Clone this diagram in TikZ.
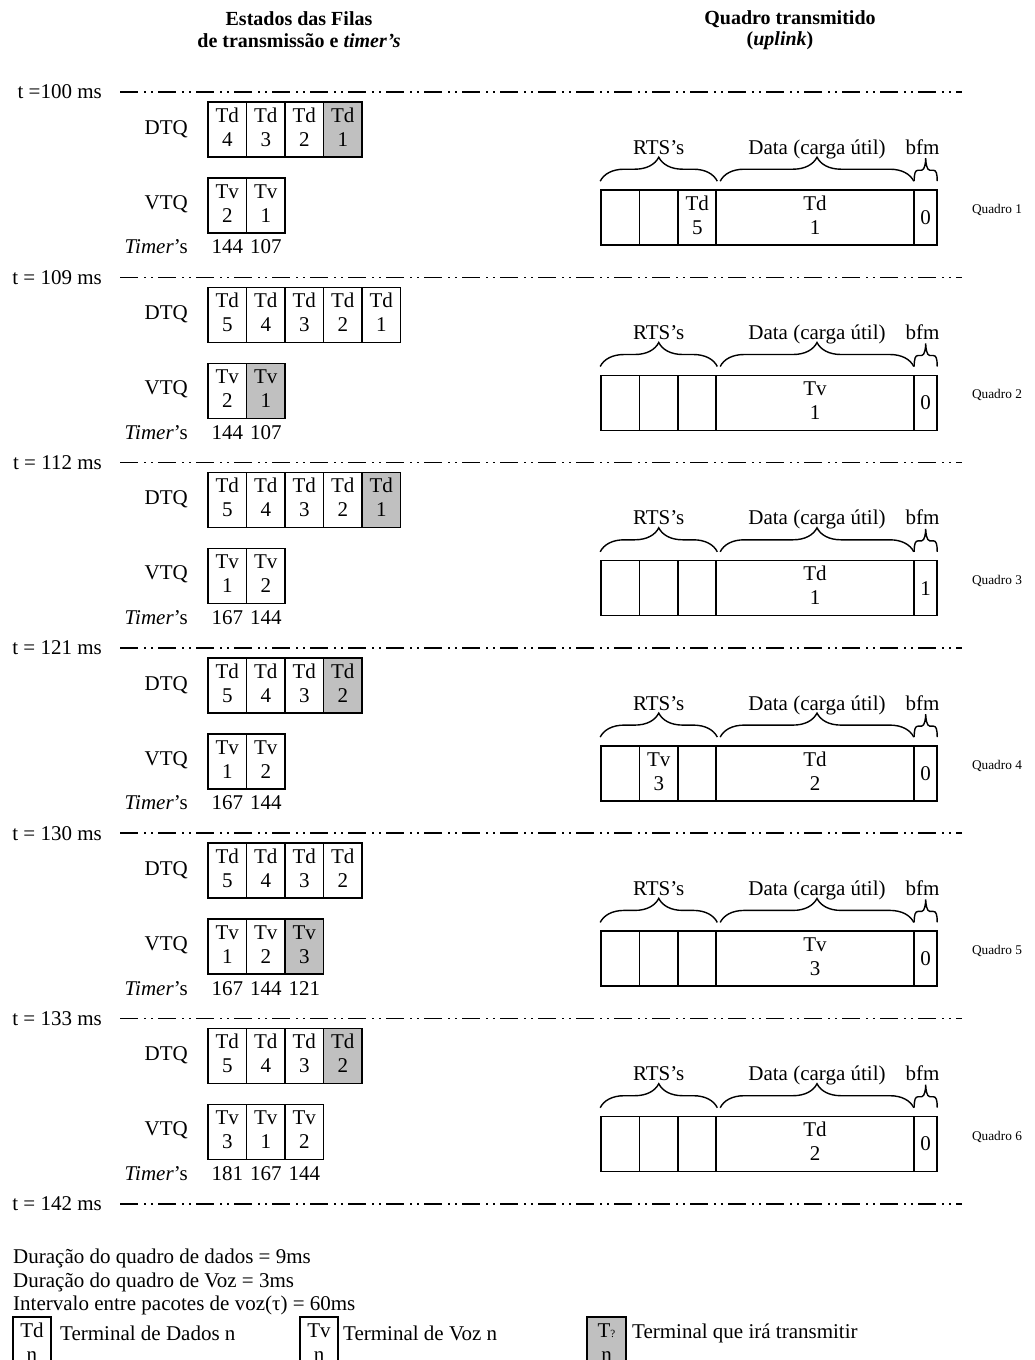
\documentclass[tikz,border=0pt]{standalone}
\usepackage{fontspec}
\setmainfont{Liberation Serif}
\usetikzlibrary{decorations.pathreplacing}

\definecolor{shade}{RGB}{192,192,192}

% two-line cell text
\newcommand{\tc}[2]{\strut#1\\\strut#2}

\tikzset{
  txt/.style={font=\fontsize{21}{24}\selectfont, inner sep=0pt},
  lbl/.style={txt, anchor=east},
  head/.style={font=\fontsize{20}{24}\selectfont\bfseries, inner sep=0pt},
  small/.style={font=\fontsize{13.3}{16}\selectfont, inner sep=0pt},
  cell/.style={draw, line width=1.6pt, minimum width=38.5pt, minimum height=55pt,
               inner sep=0pt, align=center, font=\fontsize{21}{24}\selectfont},
  timeline/.style={line width=1.5pt, dash pattern=on 18pt off 6pt on 2pt off 5pt on 2pt off 5pt},
  frbrace/.style={decorate, decoration={brace, amplitude=24pt}, line width=1.4pt},
  bflabel/.style={txt, midway, anchor=base, yshift=27pt},
}

\begin{document}
\begin{tikzpicture}[x=1pt, y=-1pt]
  \def\cw{38.5}   % queue cell width
  \def\qx{208}    % left edge of the queues
  \def\dy{185.3}  % distance between two time marks

  \useasboundingbox (0,0) rectangle (1035,1360);
  \clip (0,0) rectangle (1035,1360);

  % column headings
  \node[head] (hq1) at (299,19) {Estados das Filas};
  \node[head] (hq2) at (299,41) {de transmissão e \textit{timer's}};
  \node[head] (hf1) at (790,19) {Quadro transmitido};
  \node[head] (hf2) at (780,41) {(\textit{uplink})};

  % time marks
  \foreach \t [count=\k from 0] in {{t =100 ms},{t = 109 ms},{t = 112 ms},{t = 121 ms},
                                    {t = 130 ms},{t = 133 ms},{t = 142 ms}} {
    \pgfmathsetmacro{\L}{92+\k*\dy}
    \node[lbl] (t\k) at (102,\L) {\t};
    \coordinate (ts\k) at (120,\L);
    \coordinate (te\k) at (962,\L);
    \draw[timeline] (ts\k) -- (te\k);
  }

  % one block per frame: queues, timers and the frame sent
  \foreach \k/\dtq/\vtq/\tim/\rts/\pay/\bfm in {
      0/{4/white,3/white,2/white,1/shade}/{2/white,1/white}/{144,107}/{{},{},{\tc{Td}{5}}}/{\tc{Td}{1}}/0,
      1/{5/white,4/white,3/white,2/white,1/white}/{2/white,1/shade}/{144,107}/{{},{},{}}/{\tc{Tv}{1}}/0,
      2/{5/white,4/white,3/white,2/white,1/shade}/{1/white,2/white}/{167,144}/{{},{},{}}/{\tc{Td}{1}}/1,
      3/{5/white,4/white,3/white,2/shade}/{1/white,2/white}/{167,144}/{{},{\tc{Tv}{3}},{}}/{\tc{Td}{2}}/0,
      4/{5/white,4/white,3/white,2/white}/{1/white,2/white,3/shade}/{167,144,121}/{{},{},{}}/{\tc{Tv}{3}}/0,
      5/{5/white,4/white,3/white,2/shade}/{3/white,1/white,2/white}/{181,167,144}/{{},{},{}}/{\tc{Td}{2}}/0%
  } {
    \pgfmathsetmacro{\L}{92+\k*\dy}
    \pgfmathtruncatemacro{\qn}{\k+1}

    % queue labels
    \node[lbl] (dtq\k) at (188,\L+37) {DTQ};
    \node[lbl] (vtq\k) at (188,\L+112) {VTQ};
    \node[lbl] (tmr\k) at (188,\L+155) {\textit{Timer}'s};

    % data terminal queue
    \foreach \n/\c [count=\i from 0] in \dtq {
      \node[cell, fill=\c] (d\k-\i) at ({\qx+\cw/2+\i*\cw},\L+37.5) {\tc{Td}{\n}};
    }
    % voice terminal queue and its timers
    \foreach \n/\c [count=\i from 0] in \vtq {
      \node[cell, fill=\c] (v\k-\i) at ({\qx+\cw/2+\i*\cw},\L+113.5) {\tc{Tv}{\n}};
    }
    \foreach \v [count=\i from 0] in \tim {
      \node[txt] (tm\k-\i) at ({\qx+\cw/2+\i*\cw},\L+155) {\v};
    }

    % transmitted frame
    \foreach \r [count=\j] in \rts {
      \node[cell] (r\k-\j) at ({601+\cw/2+(\j-1)*\cw},\L+125.5) {\r};
    }
    \node[cell, minimum width=198pt] (pay\k) at (815,\L+125.5) {\pay};
    \node[cell, minimum width=23pt] (bfm\k) at (925.5,\L+125.5) {\bfm};
    \node[small] (q\k) at (997,\L+118) {Quadro \qn};

    % braces over the fields
    \draw[frbrace] ([yshift=8pt]r\k-1.north west) -- ([yshift=8pt]r\k-3.north east)
      node[bflabel] (lr\k) {RTS's};
    \draw[frbrace] ([xshift=5pt, yshift=8pt]pay\k.north west) -- ([xshift=-1pt, yshift=8pt]pay\k.north east)
      node[bflabel] (ld\k) {Data (carga útil)};
    \coordinate (bb\k) at ([xshift=1pt, yshift=8pt]bfm\k.north west);
    \draw[line width=1.4pt] (bb\k) .. controls +(0,-8) and +(-3,0) .. ++(4,-11) -- ++(3.5,0)
      .. controls +(3,0) and +(0,4) .. ++(4,-12) .. controls +(0,4) and +(-3,0) .. ++(4,12)
      -- ++(3.5,0) .. controls +(3,0) and +(0,-8) .. ++(4,11);
    \node[txt, anchor=base] (lb\k) at ([xshift=-3pt, yshift=35pt]bfm\k.north) {bfm};
  }

  % notes and key
  \node[txt, anchor=west] (n1) at (13,1258) {Duração do quadro de dados = 9ms};
  \node[txt, anchor=west] (n2) at (13,1282) {Duração do quadro de Voz = 3ms};
  \node[txt, anchor=west] (n3) at (13,1305) {Intervalo entre pacotes de voz(τ) = 60ms};

  \node[cell, fill=white] (kd) at (32,1344.5) {\tc{Td}{n}};
  \node[txt, anchor=west] (kdt) at (60,1333) {Terminal de Dados n};
  \node[cell, fill=white] (kv) at (319,1344.5) {\tc{Tv}{n}};
  \node[txt, anchor=west] (kvt) at (343,1333) {Terminal de Voz n};
  \node[cell, fill=shade] (kt) at (606.5,1344.5) {\tc{T{\fontsize{11}{11}\selectfont ?}}{n}};
  \node[txt, anchor=west] (ktt) at (632,1333) {Terminal que irá transmitir};
\end{tikzpicture}
\end{document}
